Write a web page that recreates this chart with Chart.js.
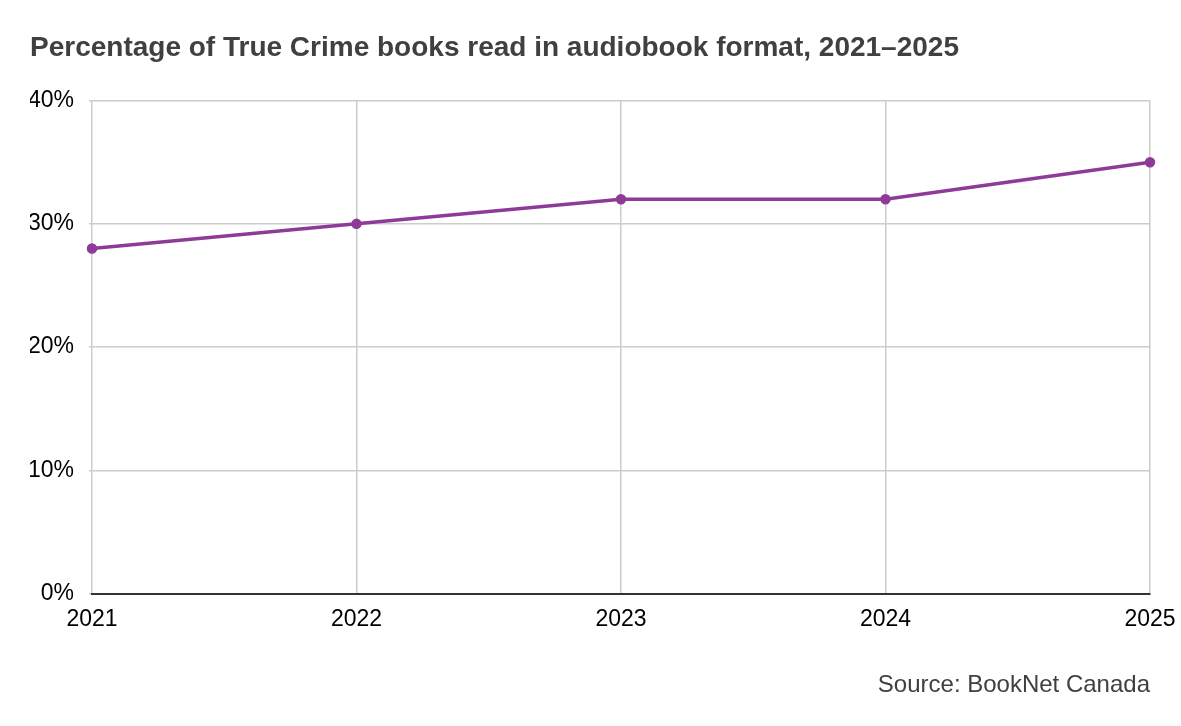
<!DOCTYPE html>
<html>
<head>
<meta charset="utf-8">
<script src="https://cdn.jsdelivr.net/npm/chart.js@4"></script>
<style>
  html, body { margin: 0; padding: 0; background: #ffffff; }
  #wrap { width: 1181px; height: 726px; position: relative; }
</style>
</head>
<body>
<div id="wrap"><canvas id="chart"></canvas></div>
<script>
// Data
const years = ["2021", "2022", "2023", "2024", "2025"];
const audiobookShare = [28, 30, 32, 32, 35];
const yTicks = [0, 10, 20, 30, 40];

const titleText = "Percentage of True Crime books read in audiobook format, 2021\u20132025";
const sourceText = "Source: BookNet Canada";

const fontFamily = "'Liberation Sans', Arial, sans-serif";
const lineColor = "#8e3b97";
const gridColor = "#cccccc";

Chart.defaults.font.family = fontFamily;
Chart.defaults.color = "#000000";

const ctx = document.getElementById("chart").getContext("2d");

const chart = new Chart(ctx, {
    type: "line",
    data: {
        labels: years,
        datasets: [
            {
                label: "Audiobook share",
                data: audiobookShare,
                borderColor: lineColor,
                backgroundColor: lineColor,
                borderWidth: 3.5,
                pointRadius: 3.5,
                pointHoverRadius: 4,
                tension: 0,
            },
        ],
    },
    options: {
        responsive: true,
        maintainAspectRatio: false,
        animation: false,
        layout: {
            padding: { left: 30, right: 31, top: 0, bottom: 0 },
        },
        plugins: {
            legend: { display: false },
            tooltip: { enabled: false },
            title: {
                display: true,
                text: titleText,
                align: "start",
                color: "#404040",
                font: { size: 28, weight: "bold", family: fontFamily },
                padding: { top: 31, bottom: 36 },
            },
            subtitle: {
                display: true,
                text: sourceText,
                position: "bottom",
                align: "end",
                color: "#404040",
                font: { size: 24, family: fontFamily },
                padding: { top: 26, bottom: 26 },
            },
        },
        scales: {
            x: {
                offset: false,
                afterFit: (axis) => {
                    // let the end labels hang past the plot edges
                    axis.paddingLeft = 0;
                    axis.paddingRight = 0;
                },
                grid: {
                    color: gridColor,
                    lineWidth: 1.5,
                    drawTicks: false,
                },
                border: { display: true, color: "#333333", width: 2 },
                ticks: {
                    color: "#000000",
                    font: { size: 23, family: fontFamily },
                    padding: 12,
                    maxRotation: 0,
                },
            },
            y: {
                min: 0,
                max: 40,
                afterBuildTicks: (axis) => {
                    axis.ticks = yTicks.map((v) => ({ value: v }));
                },
                afterFit: (axis) => {
                    axis.width = 62;
                },
                grid: {
                    color: gridColor,
                    lineWidth: 1.5,
                    tickLength: 3,
                },
                border: { display: false },
                ticks: {
                    color: "#000000",
                    font: { size: 23, family: fontFamily },
                    padding: 15,
                    callback: (value) => value + "%",
                },
            },
        },
    },
});
</script>
</body>
</html>
